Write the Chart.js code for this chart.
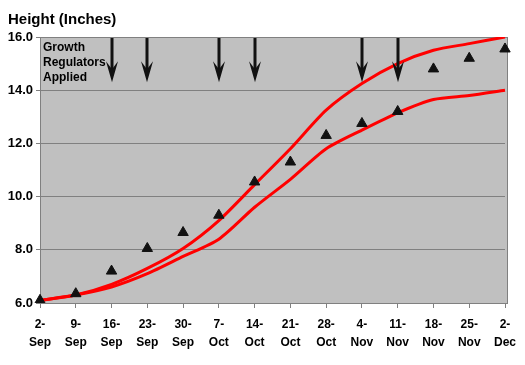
<!DOCTYPE html>
<html>
<head>
<meta charset="utf-8">
<title>Height (Inches)</title>
<script src="https://cdn.jsdelivr.net/npm/chart.js@4.4.0/dist/chart.umd.min.js"></script>
<style>
  html, body { margin: 0; padding: 0; background: #fff; }
  #wrap { width: 525px; height: 365px; }
</style>
</head>
<body>
<div id="wrap"><canvas id="heightChart" width="525" height="365"></canvas></div>
<script>
// weekly sample dates
const weeks = ['2-Sep', '9-Sep', '16-Sep', '23-Sep', '30-Sep', '7-Oct', '14-Oct',
               '21-Oct', '28-Oct', '4-Nov', '11-Nov', '18-Nov', '25-Nov', '2-Dec'];

// measured plant height (triangles)
const measuredHeight = [6.1, 6.35, 7.2, 8.05, 8.65, 9.3, 10.55, 11.3, 12.3, 12.75, 13.2, 14.8, 15.2, 15.55];

// target band (red lines)
const upperTarget = [6.1, 6.3, 6.7, 7.3, 8.05, 9.1, 10.45, 11.8, 13.25, 14.25, 15.0, 15.5, 15.75, 16.0];
const lowerTarget = [6.1, 6.3, 6.6, 7.1, 7.75, 8.4, 9.6, 10.65, 11.8, 12.5, 13.15, 13.65, 13.8, 14.0];

// weeks when growth regulators were applied
const regulatorWeeks = ['16-Sep', '23-Sep', '7-Oct', '14-Oct', '4-Nov', '11-Nov'];

const yMin = 6, yMax = 16, yStep = 2;

const FONT = 'Arial, "Liberation Sans", sans-serif';

// gray plot area with border
const plotBackground = {
  id: 'plotBackground',
  beforeDraw(chart) {
    const { ctx, chartArea: a } = chart;
    ctx.save();
    ctx.fillStyle = '#c0c0c0';
    ctx.fillRect(a.left, a.top, a.right - a.left + 2, a.bottom - a.top);
    ctx.strokeStyle = '#808080';
    ctx.lineWidth = 1;
    ctx.strokeRect(a.left + 0.5, a.top + 0.5, a.right - a.left + 2, a.bottom - a.top);
    ctx.restore();
  }
};

// arrows + "Growth Regulators Applied" note
const regulatorArrows = {
  id: 'regulatorArrows',
  afterDatasetsDraw(chart) {
    const { ctx, chartArea: a } = chart;
    const x = chart.scales.x, y = chart.scales.y;
    const top = y.getPixelForValue(16.0);
    const tip = y.getPixelForValue(14.3);
    ctx.save();
    ctx.strokeStyle = '#111';
    ctx.fillStyle = '#111';
    regulatorWeeks.forEach(w => {
      const px = Math.round(x.getPixelForValue(weeks.indexOf(w)));
      ctx.lineWidth = 3;
      ctx.beginPath();
      ctx.moveTo(px, top + 1);
      ctx.lineTo(px, tip - 10);
      ctx.stroke();
      ctx.beginPath();
      ctx.moveTo(px, tip);
      ctx.lineTo(px - 6, tip - 21);
      ctx.lineTo(px, tip - 13);
      ctx.lineTo(px + 6, tip - 21);
      ctx.closePath();
      ctx.fill();
    });

    ctx.font = 'bold 12px ' + FONT;
    ctx.fillStyle = '#000';
    ctx.textBaseline = 'middle';
    ctx.textAlign = 'left';
    ['Growth', 'Regulators', 'Applied'].forEach((t, i) => {
      ctx.fillText(t, a.left + 3, a.top + 11 + i * 15);
    });
    ctx.restore();
  }
};

new Chart(document.getElementById('heightChart'), {
  type: 'line',
  data: {
    labels: weeks.map(w => { const p = w.split('-'); return [p[0] + '-', p[1]]; }),
    datasets: [
      {
        label: 'Measured',
        data: measuredHeight,
        showLine: false,
        pointStyle: 'triangle',
        pointRadius: 6,
        pointBackgroundColor: '#111',
        pointBorderColor: '#111',
        pointBorderWidth: 1
      },
      {
        label: 'Upper',
        data: upperTarget,
        borderColor: '#ff0000',
        borderWidth: 3,
        pointRadius: 0,
        tension: 0.25,
        fill: false
      },
      {
        label: 'Lower',
        data: lowerTarget,
        borderColor: '#ff0000',
        borderWidth: 3,
        pointRadius: 0,
        tension: 0.25,
        fill: false
      }
    ]
  },
  options: {
    responsive: false,
    animation: false,
    layout: { padding: { left: 8, right: 20, top: 0, bottom: 0 } },
    plugins: {
      legend: { display: false },
      tooltip: { enabled: false },
      title: {
        display: true,
        text: 'Height (Inches)',
        align: 'start',
        color: '#000',
        font: { family: FONT, size: 15, weight: 'bold' },
        padding: { top: 11, bottom: 8 }
      }
    },
    scales: {
      x: {
        offset: false,
        grid: { drawOnChartArea: false, drawTicks: true, tickLength: 5, tickColor: '#808080' },
        border: { color: '#808080', width: 1 },
        ticks: {
          color: '#000',
          maxRotation: 0,
          autoSkip: false,
          padding: 8,
          font: { family: FONT, size: 12, weight: 'bold', lineHeight: 1.5 }
        },
        afterFit(scale) { scale.height = 62; }
      },
      y: {
        min: yMin,
        max: yMax,
        grid: { color: '#808080', lineWidth: 1, drawTicks: true, tickLength: 4, tickColor: '#808080' },
        border: { color: '#808080', width: 1 },
        ticks: {
          stepSize: yStep,
          color: '#000',
          padding: 3,
          font: { family: FONT, size: 13, weight: 'bold' },
          callback: v => v.toFixed(1)
        },
        afterFit(scale) { scale.width = 32; }
      }
    }
  },
  plugins: [plotBackground, regulatorArrows]
});
</script>
</body>
</html>
